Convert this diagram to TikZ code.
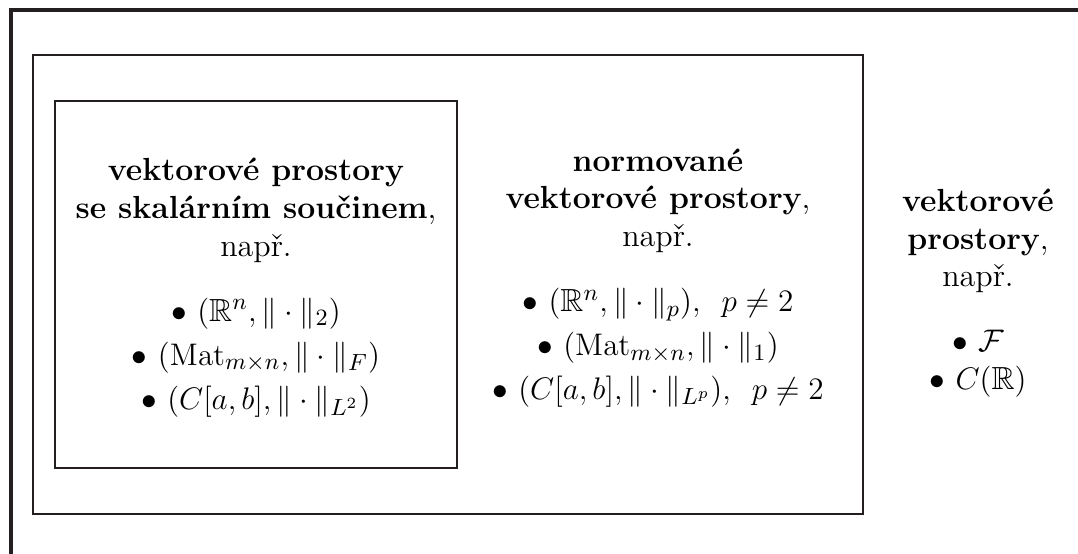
\documentclass[tikz,border=0pt]{standalone}
\usepackage{amsmath}
\usepackage{amssymb}
\usepackage{tikz}
\usepackage{xcolor}
\definecolor{SetLine}{HTML}{231F20}

\tikzset{
  setbox/.style={draw=SetLine, line width=0.7pt},
  setlabel/.style={align=center, inner sep=0pt, font=\fontsize{12.3}{14.5}\selectfont}
}

\begin{document}
\begin{tikzpicture}[x=0.3846pt, y=-0.3846pt]
  \useasboundingbox (0,0) rectangle (1078,554);
  \clip (0,0) rectangle (1078,554);

  % Outer set: vector spaces (runs off the page)
  \draw[setbox, line width=1.2pt] (11,10) rectangle (1100,580);
  % Middle set: normed vector spaces
  \draw[setbox, line width=0.8pt] (33,55) rectangle (863,514);
  % Inner set: inner product spaces
  \draw[setbox] (55,101) rectangle (457,468);

  % Labels of the three sets
  \node[setlabel] (inner) at (256,287.5) {%
    \textbf{vektorové prostory}\\
    \textbf{se skalárním součinem},\\
    např.\\[10.5pt]
    $\bullet$ $(\mathbb{R}^n, \|\cdot\|_2)$\\[2.4pt]
    $\bullet$ $(\mathrm{Mat}_{m\times n}, \|\cdot\|_F)$\\[2.4pt]
    $\bullet$ $(C[a,b], \|\cdot\|_{L^2})$};

  \node[setlabel] (normed) at (658,278) {%
    \textbf{normované}\\
    \textbf{vektorové prostory},\\
    např.\\[10.5pt]
    $\bullet$ $(\mathbb{R}^n, \|\cdot\|_p),\enspace p\neq 2$\\[2.4pt]
    $\bullet$ $(\mathrm{Mat}_{m\times n}, \|\cdot\|_1)$\\[2.4pt]
    $\bullet$ $(C[a,b], \|\cdot\|_{L^p}),\enspace p\neq 2$};

  \node[setlabel] (vector) at (978,293) {%
    \textbf{vektorové}\\
    \textbf{prostory},\\
    např.\\[10.5pt]
    $\bullet$ $\mathcal{F}$\\
    $\bullet$ $C(\mathbb{R})$};
\end{tikzpicture}
\end{document}
